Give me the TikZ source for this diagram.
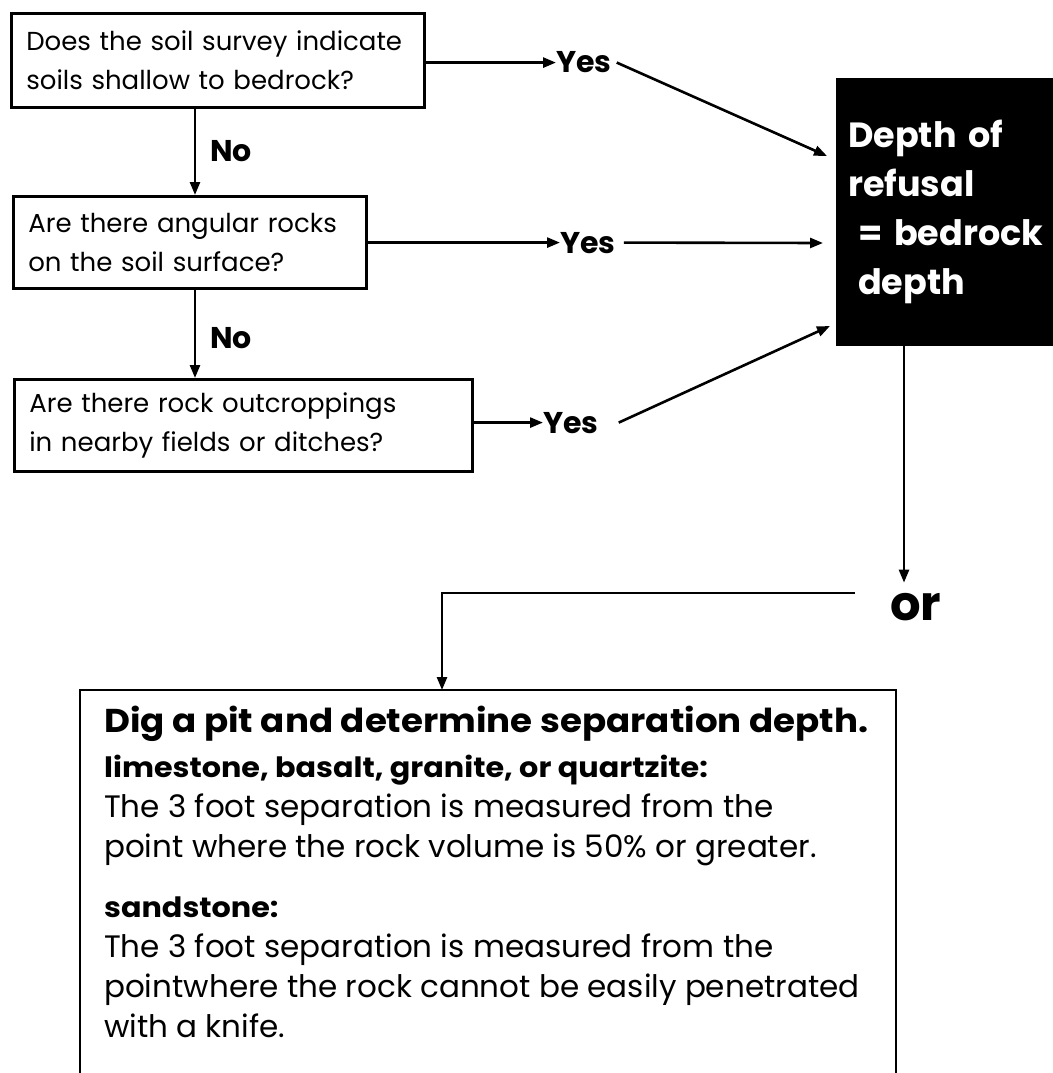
\documentclass[tikz,border=0pt]{standalone}
\usepackage{fontspec}
\setmainfont{Poppins}
\newfontfamily\widefont[FakeStretch=1.08]{Poppins}
\usetikzlibrary{arrows.meta}
\begin{document}
\begin{tikzpicture}[x=1pt,y=-1pt,
  every node/.style={inner sep=0pt},
  arr/.style={line width=2.6pt, -{Triangle[length=13pt,width=10pt]}},
  frame/.style={line width=2.6pt},
  qbox/.style={draw, line width=2.6pt, anchor=north west, align=left,
    inner xsep=15pt, inner ysep=0pt, font=\fontsize{26}{39}\selectfont},
  ans/.style={anchor=base west, font=\fontsize{30}{30}\selectfont\bfseries},
  neg/.style={anchor=base west, font=\fontsize{30}{30}\selectfont\bfseries}]
\useasboundingbox (0,0) rectangle (1052,1073);

% question boxes
\node[qbox, text width=383pt, minimum height=94pt] (q1) at (10,12)
  {Does the soil survey indicate\\soils shallow to bedrock?};
\node[qbox, text width=323pt, minimum height=92pt] (q2) at (12,195)
  {Are there angular rocks\\on the soil surface?};
\node[qbox, text width=428pt, minimum height=92pt] (q3) at (13,378)
  {Are there rock outcroppings\\in nearby fields or ditches?};

% answers
\node[ans] (a1) at (556,73) {Yes};
\node[ans] (a2) at (560,253) {Yes};
\node[ans] (a3) at (543,433) {Yes};
\node[neg] (n1) at (210,161) {No};
\node[neg] (n2) at (210,348) {No};

% result box
\node[anchor=north west, fill=black, text=white, minimum height=268pt,
  text width=210pt, inner xsep=12pt, align=left,
  font=\fontsize{35}{49}\selectfont\bfseries] (res) at (836,78)
  {Depth of\\refusal\\\hspace*{10pt}= bedrock\\\hspace*{10pt}depth};

\node[anchor=base west, font=\fontsize{48}{48}\selectfont\bfseries] (orn) at (890,620) {or};

% final instructions: open-bottomed frame with its text
\node[anchor=north west, inner xsep=24pt, inner ysep=16pt,
  align=left, font=\fontsize{31}{40}\selectfont] (dig) at (80,690)
  {{\widefont\fontsize{33}{40}\selectfont\bfseries Dig a pit and determine separation depth.}\\[5pt]
   {\widefont\fontsize{28}{40}\selectfont\bfseries limestone, basalt, granite, or quartzite:}\\
   The 3 foot separation is measured from the\\
   point where the rock volume is 50\% or greater.\\[20pt]
   {\widefont\fontsize{28}{40}\selectfont\bfseries sandstone:}\\
   The 3 foot separation is measured from the\\
   pointwhere the rock cannot be easily penetrated\\
   with a knife.};
\coordinate (digne) at ([xshift=816pt]dig.north west);
\draw[frame] ([yshift=-420pt]dig.north west) -- (dig.north west)
  -- (digne) -- ([yshift=-420pt]digne);

% arrow targets beside the result box
\coordinate (t1) at (827,156);
\coordinate (t2) at (823,243);
\coordinate (t3) at (830,326);
\coordinate (h1) at (855,593);

% connectors
\draw[arr] (q1.east |- a1.west) -- (a1.west);
\draw[arr] (q2.east |- a2.west) -- (a2.west);
\draw[arr] (q3.east |- a3.west) -- (a3.west);
\draw[arr] ([xshift=5pt]a1.east) -- (t1);
\draw[arr] ([xshift=8pt]a2.east) -- (t2);
\draw[arr] ([xshift=20pt]a3.east) -- (t3);
\draw[arr] ([xshift=185pt]q1.south west) -- ([xshift=183pt]q2.north west);
\draw[arr] ([xshift=183pt]q2.south west) -- ([xshift=182pt]q3.north west);
\draw[arr] ([xshift=68pt]res.south west) -- ([shift={(14,-10)}]orn.north west);
\draw[arr] (h1) -| ([xshift=362pt]dig.north west);
\end{tikzpicture}
\end{document}
